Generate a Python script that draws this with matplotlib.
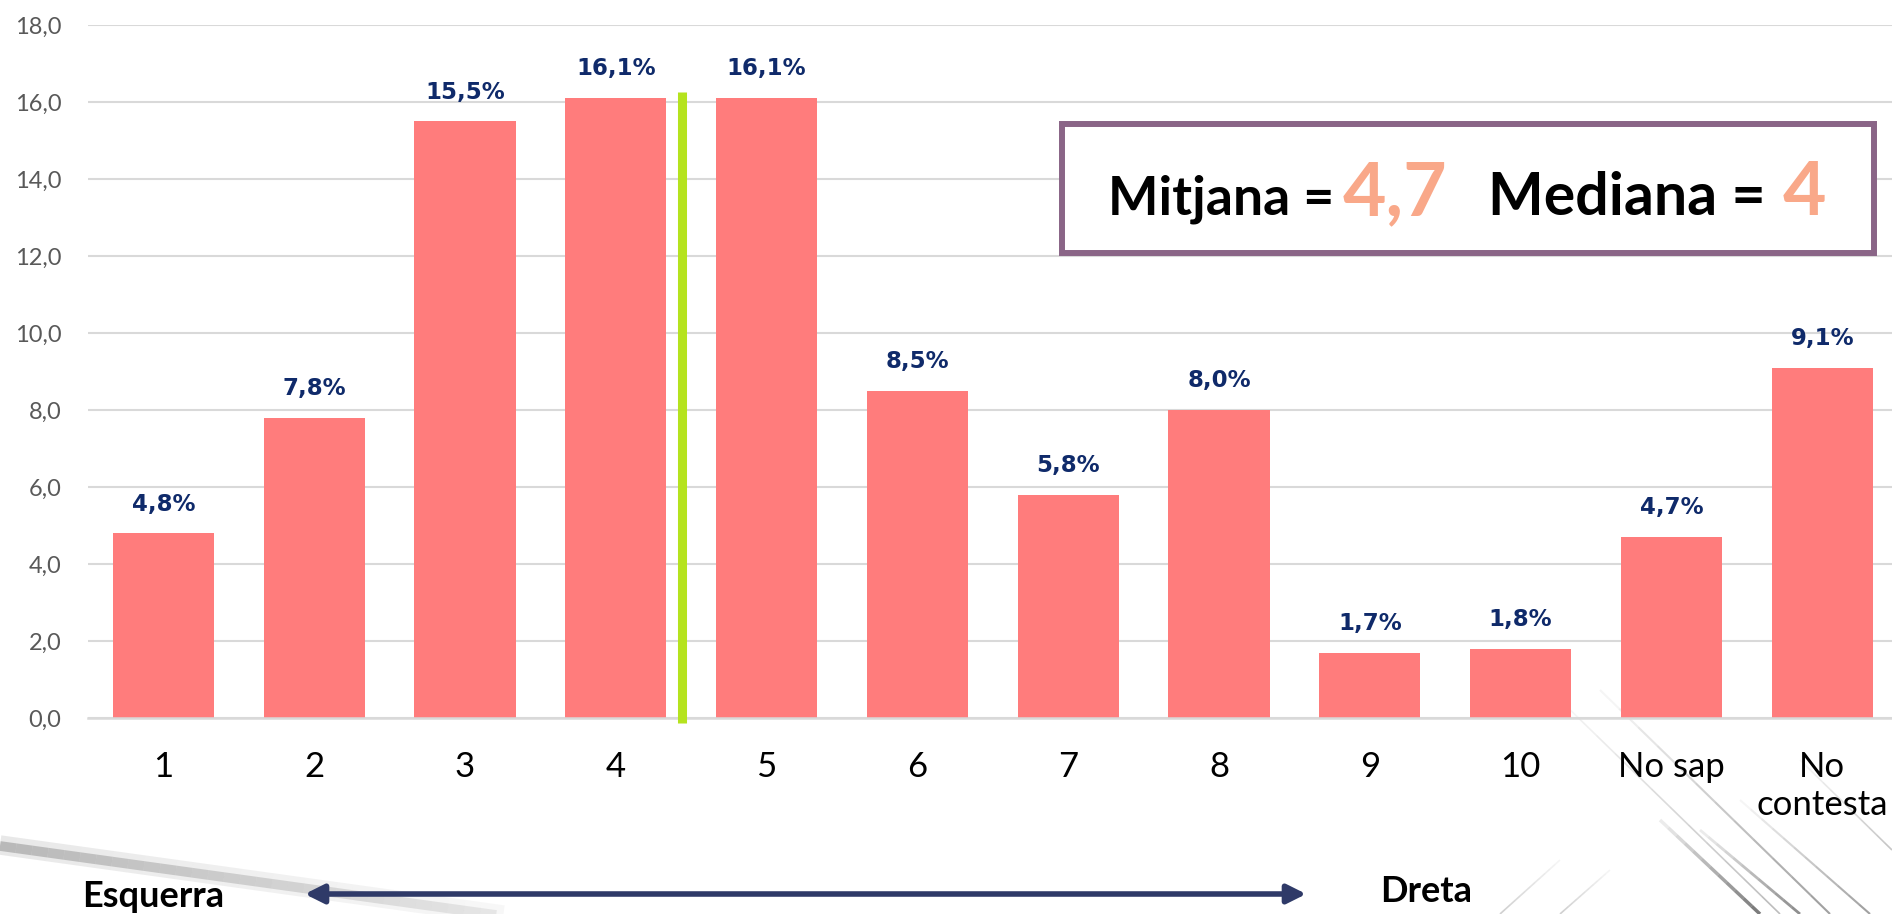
import numpy as np
import matplotlib.pyplot as plt
from matplotlib.patches import Rectangle, FancyArrowPatch
from matplotlib.lines import Line2D

plt.rcParams.update({"font.family": ["Lato", "DejaVu Sans"]})

categories = ["1", "2", "3", "4", "5", "6", "7", "8", "9", "10", "No sap", "No\ncontesta"]
percent = [4.8, 7.8, 15.5, 16.1, 16.1, 8.5, 5.8, 8.0, 1.7, 1.8, 4.7, 9.1]
yticks = [0, 2, 4, 6, 8, 10, 12, 14, 16, 18]
mitjana = "4,7"
mediana = "4"
median_line_x = 3.44

W, H = 1892, 914
fig = plt.figure(figsize=(W / 100, H / 100), dpi=100)

# faint grey strokes in the background (pixel coords, from top)
def stroke(x0, y0, x1, y1, lw, a0, a1, color="#6f6f6f", n=40):
    xs = np.linspace(x0, x1, n + 1)
    ys = np.linspace(y0, y1, n + 1)
    for i in range(n):
        a = a0 + (a1 - a0) * i / (n - 1)
        fig.add_artist(Line2D([xs[i] / W, xs[i + 1] / W], [1 - ys[i] / H, 1 - ys[i + 1] / H],
                              lw=lw, color=color, alpha=a, solid_capstyle="butt", zorder=-5))

# soft brush stroke bottom left
stroke(0, 845, 640, 934, 14, 0.22, 0.03, "#9a9a9a")
stroke(0, 846, 640, 935, 7, 0.45, 0.05, "#808080")

# streaks bottom right
for x0, y0, x1, y1, lw, a0, a1 in [
        (1560, 700, 1780, 914, 1.2, 0.05, 0.35),
        (1600, 690, 1830, 914, 1.5, 0.05, 0.5),
        (1660, 820, 1760, 914, 2.5, 0.1, 0.7),
        (1700, 830, 1800, 914, 2.0, 0.1, 0.6),
        (1740, 800, 1870, 914, 1.5, 0.05, 0.5),
        (1800, 760, 1892, 850, 1.2, 0.05, 0.3),
        (1560, 860, 1500, 914, 1.2, 0.05, 0.25),
        (1610, 870, 1560, 914, 1.2, 0.05, 0.25)]:
    stroke(x0, y0, x1, y1, lw, a0, a1, "#444444", n=12)

ax = fig.add_axes([88 / W, 196 / H, 12 * 150.8 / W, 9 * 77 / H])
ax.patch.set_alpha(0)
x = np.arange(len(categories))
ax.bar(x, percent, width=0.672, color="#FF7C7C", zorder=2)

for xi, v in zip(x, percent):
    ax.annotate(f"{v:.1f}%".replace(".", ","), (xi, v), xytext=(0, 21),
                textcoords="offset points", ha="center", va="center",
                fontsize=16.5, fontweight="bold", color="#0F2A6A", family="DejaVu Sans")

# green marker between 4 and 5
ax.plot([median_line_x, median_line_x], [-0.12, 16.25], color="#B5E31E", lw=6.5,
        solid_capstyle="butt", clip_on=False, zorder=3)

ax.set_xlim(-0.5, 11.5)
ax.set_ylim(0, 18)
ax.set_yticks(yticks)
ax.set_yticklabels([f"{t:.1f}".replace(".", ",") for t in yticks])
ax.set_xticks(x)
ax.set_xticklabels(categories, linespacing=1.2)
ax.yaxis.grid(True, color="#D9D9D9", lw=1.5)
ax.set_axisbelow(True)
for s in ["top", "right", "left"]:
    ax.spines[s].set_visible(False)
ax.spines["bottom"].set_color("#D9D9D9")
ax.spines["bottom"].set_linewidth(1.8)
ax.tick_params(axis="y", length=0, labelsize=17, labelcolor="#595959", pad=19)
ax.tick_params(axis="x", length=0, labelsize=25, labelcolor="black", pad=24)

# summary box
fig.add_artist(Rectangle((1062 / W, 661 / H), 812 / W, 129 / H, transform=fig.transFigure,
                         fc="white", ec="#8A6587", lw=4.3, zorder=5))
base = 1 - 215 / H
fig.text(1108 / W, base, "Mitjana =", fontsize=38.5, fontweight="bold", va="baseline", zorder=6)
fig.text(1343 / W, base, mitjana, fontsize=54, fontweight="bold", color="#F9A889", va="baseline", zorder=6)
fig.text(1488 / W, base, "Mediana =", fontsize=42.5, fontweight="bold", va="baseline", zorder=6)
fig.text(1783 / W, base, mediana, fontsize=54, fontweight="bold", color="#F9A889", va="baseline", zorder=6)

# left / right scale
fig.add_artist(FancyArrowPatch((302 / W, 20 / H), (1309 / W, 20 / H), transform=fig.transFigure,
                               arrowstyle="<|-|>", mutation_scale=28, lw=4, color="#2F3A68"))
fig.text(153 / W, 1 - 907 / H, "Esquerra", fontsize=26, fontweight="bold", ha="center", va="baseline")
fig.text(1426 / W, 1 - 902 / H, "Dreta", fontsize=26, fontweight="bold", ha="center", va="baseline")

fig.savefig("out.png", dpi=100)
